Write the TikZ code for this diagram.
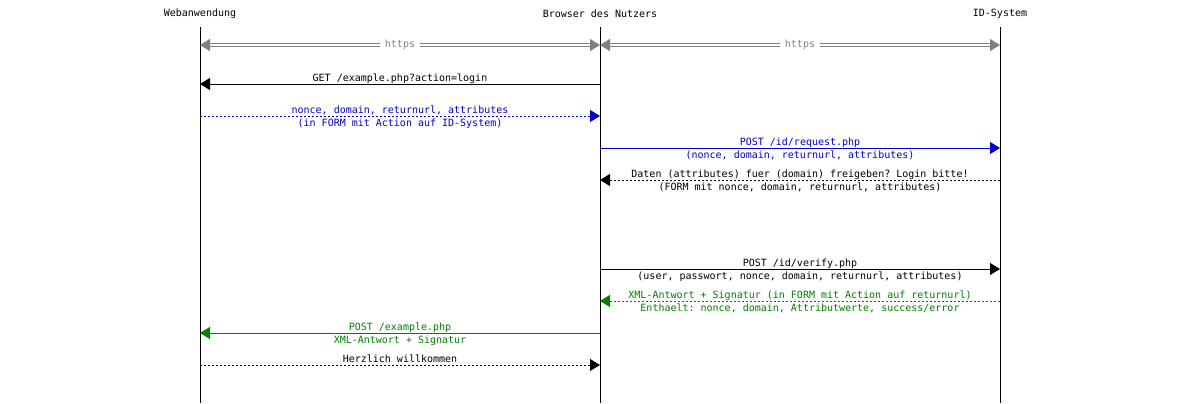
\documentclass[tikz,border=0pt]{standalone}
\usepackage{fontspec}
\setmonofont{DejaVu Sans Mono}
\usetikzlibrary{arrows.meta, positioning}

\definecolor{mscblue}{RGB}{0,0,204}
\definecolor{mscgreen}{RGB}{0,128,0}
\definecolor{mscgray}{RGB}{128,128,128}
\newcommand{\mscfont}{\ttfamily\fontsize{10bp}{13bp}\selectfont}

\begin{document}
\begin{tikzpicture}[
    x=1bp, y=-1bp,
    actor/.style={font=\mscfont, inner sep=0pt},
    lifeline/.style={line width=0.8bp},
    msg/.style={-{Triangle[length=10bp,width=12bp]}, line width=0.8bp},
    dotmsg/.style={msg, dash pattern=on 2bp off 2bp},
    lbl/.style={font=\mscfont, inner sep=0pt, anchor=base},
    upper/.style={lbl, midway, yshift=3bp},
    lower/.style={lbl, midway, yshift=-10.5bp},
    secure/.style={{Triangle[length=10bp,width=12bp]}-{Triangle[length=10bp,width=12bp]}, mscgray, double=white, double distance=2bp, line width=1bp}
]
\useasboundingbox[fill=white] (0,0) rectangle (1200,403);

% Actors
\node[actor] (web) at (200,14) {Webanwendung};
\node[actor] (browser) at (600,14) {Browser des Nutzers};
\node[actor] (idsys) at (1000,14) {ID-System};

% Message rows
\foreach \row/\y in {top/27, https/45, get/84, nonce/116, request/148, daten/180,
                     verify/269, xmlresp/301, postback/333, hello/365, bottom/403}
    \coordinate (\row) at (0,\y);

% Lifelines
\draw[lifeline] (web |- top) -- (web |- bottom);
\draw[lifeline] (browser |- top) -- (browser |- bottom);
\draw[lifeline] (idsys |- top) -- (idsys |- bottom);

% Secure channels
\draw[secure] (web |- https) -- (browser |- https)
    node[midway, font=\mscfont, fill=white, inner xsep=5bp, inner ysep=0pt, text=mscgray] {https};
\draw[secure] (browser |- https) -- (idsys |- https)
    node[midway, font=\mscfont, fill=white, inner xsep=5bp, inner ysep=0pt, text=mscgray] {https};

% Messages
\draw[msg] (browser |- get) -- (web |- get)
    node[upper] {GET /example.php?action=login};
\draw[dotmsg, mscblue] (web |- nonce) -- (browser |- nonce)
    node[upper] {nonce, domain, returnurl, attributes}
    node[lower] {(in FORM mit Action auf ID-System)};
\draw[msg, mscblue] (browser |- request) -- (idsys |- request)
    node[upper] {POST /id/request.php}
    node[lower] {(nonce, domain, returnurl, attributes)};
\draw[dotmsg] (idsys |- daten) -- (browser |- daten)
    node[upper] {Daten (attributes) fuer (domain) freigeben? Login bitte!}
    node[lower] {(FORM mit nonce, domain, returnurl, attributes)};
\draw[msg] (browser |- verify) -- (idsys |- verify)
    node[upper] {POST /id/verify.php}
    node[lower] {(user, passwort, nonce, domain, returnurl, attributes)};
\draw[dotmsg, mscgreen] (idsys |- xmlresp) -- (browser |- xmlresp)
    node[upper] {XML-Antwort + Signatur (in FORM mit Action auf returnurl)}
    node[lower] {Enthaelt: nonce, domain, Attributwerte, success/error};
\draw[msg, mscgreen] (browser |- postback) -- (web |- postback)
    node[upper] {POST /example.php}
    node[lower] {XML-Antwort + Signatur};
\draw[dotmsg] (web |- hello) -- (browser |- hello)
    node[upper] {Herzlich willkommen};

\end{tikzpicture}
\end{document}
